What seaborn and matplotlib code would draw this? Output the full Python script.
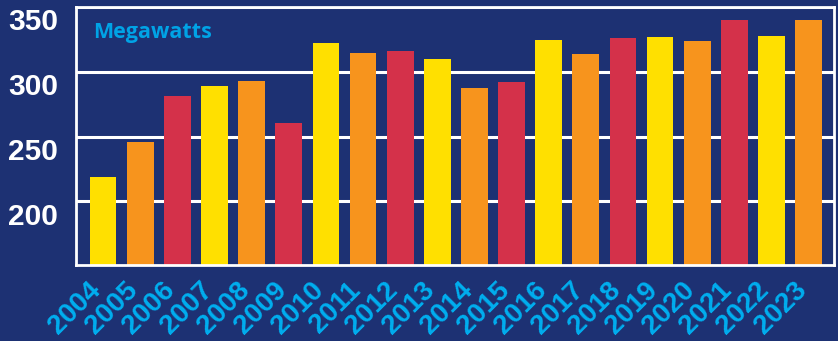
import matplotlib
matplotlib.use("Agg")
import matplotlib.pyplot as plt
import matplotlib.transforms as mtrans
import seaborn as sns
import pandas as pd

years = [str(y) for y in range(2004, 2024)]
megawatts = [218.6, 245.7, 281.2, 288.9, 292.8, 260.3, 322.2, 314.5, 316.0, 309.8,
             287.4, 292.0, 324.5, 313.7, 326.0, 326.8, 323.7, 340.0, 327.6, 340.0]
yticks = [200, 250, 300, 350]
unit_label = "Megawatts"

BG = "#1d3173"
cycle = ["#ffe000", "#f7941d", "#d4314a"]
bar_colors = [cycle[i % 3] for i in range(len(years))]

sns.set_theme(style="white")
plt.rcParams['font.family'] = ['Liberation Sans', 'DejaVu Sans']

df = pd.DataFrame({"year": years, "mw": megawatts})

fig = plt.figure(figsize=(8.38, 3.41), dpi=100, facecolor=BG)
ax = fig.add_axes([0.0907, 0.2229, 0.995 - 0.0907, 0.9795 - 0.2229])
ax.set_facecolor(BG)

sns.barplot(data=df, x="year", y="mw", hue="year", palette=bar_colors,
            legend=False, width=0.72, saturation=1, ax=ax, zorder=3,
            edgecolor="none", linewidth=0)

ax.set_ylim(151, 350)
ax.set_xlim(-0.73, 19.68)
ax.set_yticks(yticks)
ax.set_yticklabels([str(t) for t in yticks], fontsize=21.5, fontweight="bold", color="white")
ax.set_xticks(range(len(years)))
ax.set_xticklabels(years, fontsize=20, fontweight="bold", color="#00aeef",
                   rotation=45, ha="right", va="top", rotation_mode="anchor")
ax.tick_params(axis="x", length=0, pad=9)
ax.tick_params(axis="y", length=0, pad=13)
ax.set_xlabel("")
ax.set_ylabel("")

shift = mtrans.ScaledTranslation(0, -1 / 72, fig.dpi_scale_trans)
for lbl in ax.get_yticklabels():
    lbl.set_va("top")
    lbl.set_transform(lbl.get_transform() + shift)
shiftx = mtrans.ScaledTranslation(-11 / 72, 0, fig.dpi_scale_trans)
for lbl in ax.get_xticklabels():
    lbl.set_transform(lbl.get_transform() + shiftx)

ax.grid(axis="y", color="white", linewidth=2.2, zorder=1)
ax.grid(axis="x", visible=False)
for s in ax.spines.values():
    s.set_visible(True)
    s.set_color("white")
    s.set_linewidth(2.0)
    s.set_zorder(5)

ax.text(0.022, 0.903, unit_label, transform=ax.transAxes, fontsize=15.5,
        fontweight="bold", color="#00a3e6", family=["Open Sans", "DejaVu Sans"],
        va="center", ha="left")

fig.savefig("out.png", dpi=100, facecolor=BG)
